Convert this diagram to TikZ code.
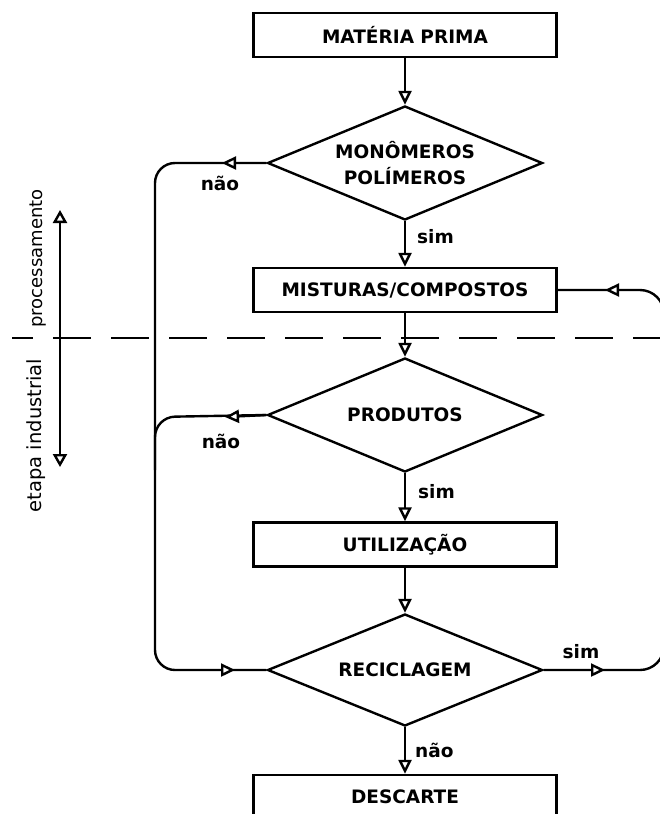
\documentclass[tikz,border=0pt]{standalone}
\usepackage{fontspec}
\setmainfont{DejaVu Sans}
\usetikzlibrary{arrows.meta,shapes.geometric}
\begin{document}
\begin{tikzpicture}[x=1pt,y=-1pt,
  flow/.style={line width=2.4pt},
  box/.style={draw, flow, minimum width=303pt, minimum height=44pt, inner sep=0pt,
    font=\bfseries\fontsize{18.5}{22}\selectfont},
  dec/.style={draw, flow, diamond, aspect=2.4, minimum width=275pt, minimum height=114pt,
    inner sep=0pt, align=center, font=\bfseries\fontsize{18.5}{26}\selectfont},
  lab/.style={font=\bfseries\fontsize{18.5}{20}\selectfont, inner sep=0pt},
  rot/.style={font=\fontsize{18}{20}\selectfont, inner sep=0pt, rotate=90},
  tip/.style={-{Triangle[length=14pt,width=13pt,fill=white]}},
  bigtip/.style={{Triangle[length=13pt,width=14pt,fill=white]}-{Triangle[length=13pt,width=14pt,fill=white]}}
]
\useasboundingbox (0,0) rectangle (660,814);

% main nodes
\node[box] (b1) at (405,35) {MATÉRIA PRIMA};
\node[dec] (d1) at (405,163) {MONÔMEROS\\POLÍMEROS};
\node[box] (b2) at (405,290) {MISTURAS/COMPOSTOS};
\node[dec] (d2) at (405,415) {PRODUTOS};
\node[box] (b3) at (405,544.5) {UTILIZAÇÃO};
\node[dec, minimum height=112pt] (d3) at (405,670) {RECICLAGEM};
\node[box] (b4) at (405,797) {DESCARTE};

% coordinates for loops
\coordinate (L1) at (155,163);
\coordinate (L2) at (155,417);
\coordinate (L2e) at (155,470);
\coordinate (L3) at (155,670);
\coordinate (R3) at (664,670);
\coordinate (R2) at (664,290);
\coordinate (a1) at (222,163);
\coordinate (a2) at (225,417);
\coordinate (a3s) at (195,670);
\coordinate (a3) at (235,670);
\coordinate (a4) at (605,670);
\coordinate (a5s) at (640,290);
\coordinate (a5) at (605,290);

% straight flow
\draw[flow,tip] (b1) -- (d1);
\draw[flow,tip] (d1) -- (b2);
\draw[flow,tip] (b2) -- (d2);
\draw[flow,tip] (d2) -- (b3);
\draw[flow,tip] (b3) -- (d3);
\draw[flow,tip] (d3) -- (b4);

% loops
\draw[flow, rounded corners=20pt] (d1.west) -- (L1) -- (L3) -- (d3.west);
\draw[flow, rounded corners=20pt] (d2.west) -- (L2) -- (L2e);
\draw[flow, rounded corners=24pt] (d3.east) -- (R3) -- (R2) -- (b2.east);
\draw[flow,tip] (d1.west) -- (a1);
\draw[flow,tip] (d2.west) -- (a2);
\draw[flow,tip] (a3s) -- (a3);
\draw[flow,tip] (d3.east) -- (a4);
\draw[flow,tip] (a5s) -- (a5);

% labels
\node[lab, anchor=base] (n1) at (220,190) {não};
\node[lab, anchor=base west] (s1) at (417,243) {sim};
\node[lab, anchor=base] (n2) at (221,448) {não};
\node[lab, anchor=base west] (s2) at (418,498) {sim};
\node[lab, anchor=base] (s3) at (581,658) {sim};
\node[lab, anchor=base west] (n3) at (415,757) {não};

% stage separator
\coordinate (dl) at (12,338);
\coordinate (dr) at (664,338);
\draw[flow, dash pattern=on 38pt off 20pt, dash phase=17pt] (dl) -- (dr);

\coordinate (up) at (60,210);
\coordinate (dn) at (60,467);
\draw[flow, bigtip] (up) -- (dn);
\node[rot] (proc) at (38,258.5) {processamento};
\node[rot, font=\fontsize{19.5}{20}\selectfont] (etap) at (36,435.5) {etapa industrial};
\end{tikzpicture}
\end{document}
